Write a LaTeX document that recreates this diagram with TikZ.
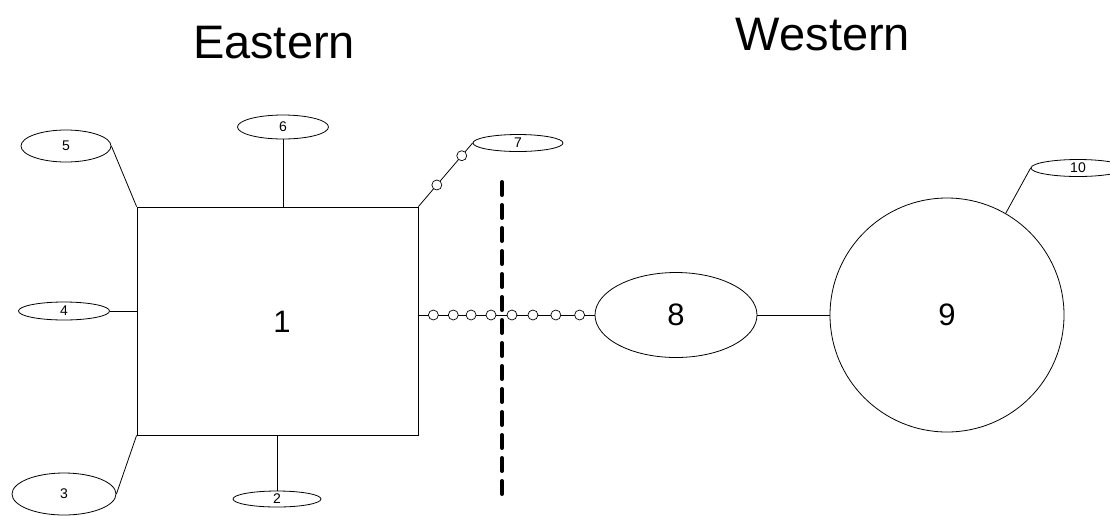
\documentclass[tikz,border=0pt]{standalone}
\usepackage{fontspec}
\setmainfont{Liberation Sans}
\usetikzlibrary{shapes.geometric}
\begin{document}
\begin{tikzpicture}[x=1pt,y=-1pt,
  edge/.style={draw=black,line width=0.8pt},
  leaf/.style={ellipse,draw,line width=0.8pt,inner sep=0pt,font=\fontsize{14}{16}\selectfont},
  bead/.style={circle,draw,fill=white,line width=0.7pt,minimum size=10pt,inner sep=0pt},
  title/.style={font=\fontsize{47}{50}\selectfont,anchor=base},
  big/.style={font=\fontsize{31}{34}\selectfont},
  divider/.style={line width=4pt,dash pattern=on 13pt off 10pt,line cap=round}]
\useasboundingbox (0,0) rectangle (1110,515);

% region titles
\node[title] (east) at (274,58) {Eastern};
\node[title] (west) at (823,50) {Western};

% central block and its satellites
\node[draw,line width=0.8pt,minimum width=281pt,minimum height=228pt] (n1) at (277.5,321) {};
\node[big] (n1label) at (282,322) {1};
\node[leaf,minimum width=90pt,minimum height=32pt] (n5) at (66,146) {5};
\node[leaf,minimum width=91pt,minimum height=24pt] (n6) at (283,127) {6};
\node[leaf,minimum width=90pt,minimum height=17pt] (n7) at (518,143) {7};
\node[leaf,minimum width=91pt,minimum height=18pt] (n4) at (64,311) {4};
\node[leaf,minimum width=104pt,minimum height=42pt] (n3) at (64,494) {3};
\node[leaf,minimum width=88pt,minimum height=16pt] (n2) at (277,499) {2};

% western side
\node[ellipse,draw,line width=0.8pt,minimum width=162pt,minimum height=85pt,big] (n8) at (676,315) {8};
\node[circle,draw,line width=0.8pt,minimum size=234pt,big] (n9) at (947,315) {9};
\node[leaf,minimum width=94pt,minimum height=17pt] (n10) at (1078,168) {10};

% connectors
\draw[edge] (n5.east) -- (n1.north west);
\draw[edge] (n6.south) -- (n6.south |- n1.north);
\draw[edge] (n1.north east) -- (n7.west)
  node[bead,pos=0.34] (b71) {} node[bead,pos=0.8] (b72) {};
\draw[edge] (n4.east) -- (n4.east -| n1.west);
\draw[edge] (n1.south west) -- (n3.east);
\draw[edge] (n2.north) -- (n2.north |- n1.south);
\draw[edge] (n8.west -| n1.east) -- (n8.west)
  node[bead,pos=0.085] (c1) {} node[bead,pos=0.198] (c2) {}
  node[bead,pos=0.299] (c3) {} node[bead,pos=0.412] (c4) {}
  node[bead,pos=0.531] (c5) {} node[bead,pos=0.650] (c6) {}
  node[bead,pos=0.780] (c7) {} node[bead,pos=0.915] (c8) {};
\draw[edge] (n8.east) -- (n9.west);
\draw[edge] (n10.west) -- (n9.60);

% dividing line between the two regions
\coordinate (divtop) at (502,182);
\coordinate (divbot) at (502,497);
\draw[divider] (divtop) -- (divbot);
\end{tikzpicture}
\end{document}
